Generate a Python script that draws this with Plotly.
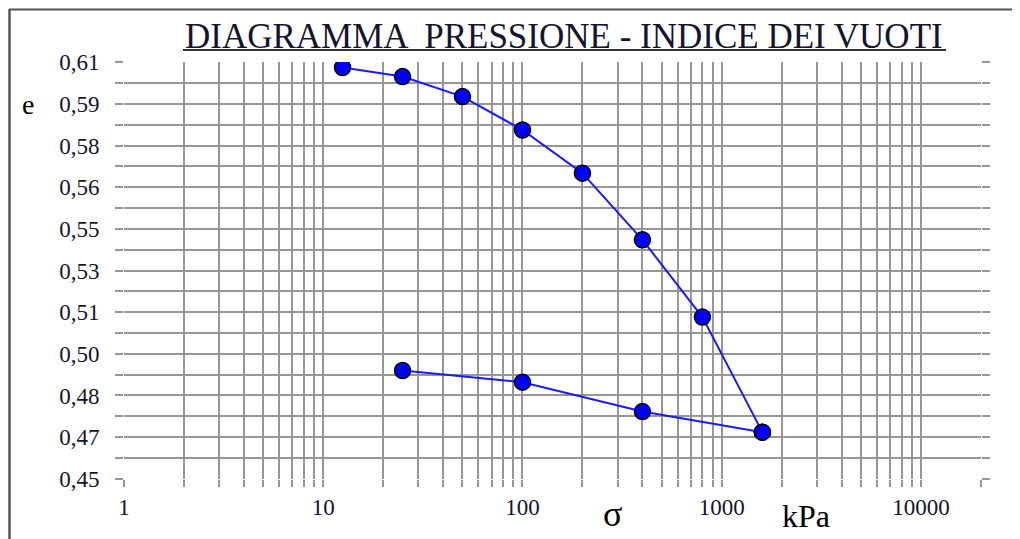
import plotly.graph_objects as go

# Data
load_sigma = [12.5, 25, 50, 100, 200, 400, 800, 1600]
load_e = [0.6080, 0.6045, 0.5968, 0.5840, 0.5674, 0.5418, 0.5121, 0.4679]
unload_sigma = [1600, 400, 100, 25]
unload_e = [0.4679, 0.4758, 0.4871, 0.4916]

x_tick_vals = [1, 10, 100, 1000, 10000]
x_tick_text = ["1", "10", "100", "1000", "10000"]
y_tick_vals = [0.45, 0.466, 0.482, 0.498, 0.514, 0.53, 0.546, 0.562, 0.578, 0.594, 0.61]
y_tick_text = ["0,45", "0,47", "0,48", "0,50", "0,51", "0,53", "0,55", "0,56", "0,58", "0,59", "0,61"]
y_minor_vals = [0.458, 0.474, 0.49, 0.506, 0.522, 0.538, 0.554, 0.57, 0.586, 0.602]
x_minor_vals = [d * 10 ** k for k in range(5) for d in range(2, 10) if d * 10 ** k <= 20000]

PAGE_W, PAGE_H = 1020, 539
OFF = 8  # page body margin offset
W, H = PAGE_W - OFF, PAGE_H - OFF
# plot area in page pixel coordinates
P_L, P_R, P_T, P_B = 124, 981, 62, 479
L = P_L - OFF
T = P_T - OFF
R = W - (P_R - OFF)
B = H - (P_B - OFF)
PW, PH = P_R - P_L, P_B - P_T


def px(x):
    return (x - P_L) / PW


def py(y):
    return (P_B - y) / PH


SERIF = "Liberation Serif"
TXT = "#14142e"
GRID = "#969696"

fig = go.Figure()
marker = dict(size=16, color="#0000ff", line=dict(color="#000000", width=1.5))
fig.add_trace(go.Scatter(x=load_sigma, y=load_e, mode="lines+markers",
                         line=dict(color="#1a1aff", width=2), marker=marker,
                         showlegend=False))
fig.add_trace(go.Scatter(x=unload_sigma, y=unload_e, mode="lines+markers",
                         line=dict(color="#1a1aff", width=2), marker=marker,
                         showlegend=False))

fig.update_xaxes(type="log", range=[0, 4.3015], showline=False, zeroline=False,
                 tickmode="array", tickvals=x_tick_vals, ticktext=x_tick_text,
                 ticks="outside", ticklen=7, tickwidth=2, tickcolor=GRID,
                 showgrid=True, gridcolor=GRID, gridwidth=2,
                 tickfont=dict(family=SERIF, size=23, color=TXT),
                 ticklabelstandoff=0,
                 minor=dict(tickmode="array", tickvals=x_minor_vals, ticks="outside",
                            ticklen=7, tickwidth=2, tickcolor=GRID,
                            showgrid=True, gridcolor=GRID, gridwidth=2))
fig.update_yaxes(range=[0.4499, 0.6101], showline=False, zeroline=False,
                 tickmode="array", tickvals=y_tick_vals, ticktext=y_tick_text,
                 ticks="outside", ticklen=8, tickwidth=2, tickcolor=GRID, mirror="ticks",
                 showgrid=True, gridcolor=GRID, gridwidth=2,
                 tickfont=dict(family=SERIF, size=23, color=TXT),
                 ticklabelstandoff=11,
                 minor=dict(tickmode="array", tickvals=y_minor_vals, ticks="outside",
                            ticklen=8, tickwidth=2, tickcolor=GRID,
                            showgrid=True, gridcolor=GRID, gridwidth=2))

annotations = [
    dict(text="DIAGRAMMA  PRESSIONE - INDICE DEI VUOTI", x=px(564), y=py(37),
         font=dict(family=SERIF, size=35, color=TXT)),
    dict(text="e", x=px(28), y=py(104), font=dict(family=SERIF, size=28, color="#000000")),
    dict(text="σ", x=px(612), y=py(514), font=dict(family=SERIF, size=36, color="#000000")),
    dict(text="kPa", x=px(806), y=py(516), font=dict(family=SERIF, size=32, color="#000000")),
]
for a in annotations:
    a.update(xref="paper", yref="paper", showarrow=False, xanchor="center", yanchor="middle")

shapes = [
    dict(type="line", xref="paper", yref="paper", x0=px(183), x1=px(946), y0=py(50), y1=py(50),
         line=dict(color="#333333", width=2)),
    dict(type="line", xref="paper", yref="paper", x0=px(9), x1=px(1030), y0=py(9.5), y1=py(9.5),
         line=dict(color="#555555", width=2)),
    dict(type="line", xref="paper", yref="paper", x0=px(9.5), x1=px(9.5), y0=py(9), y1=py(560),
         line=dict(color="#555555", width=2.5)),
]

fig.update_layout(width=W, height=H, margin=dict(l=L, r=R, t=T, b=B),
                  paper_bgcolor="white", plot_bgcolor="white",
                  annotations=annotations, shapes=shapes)

fig.write_html("out.html")
